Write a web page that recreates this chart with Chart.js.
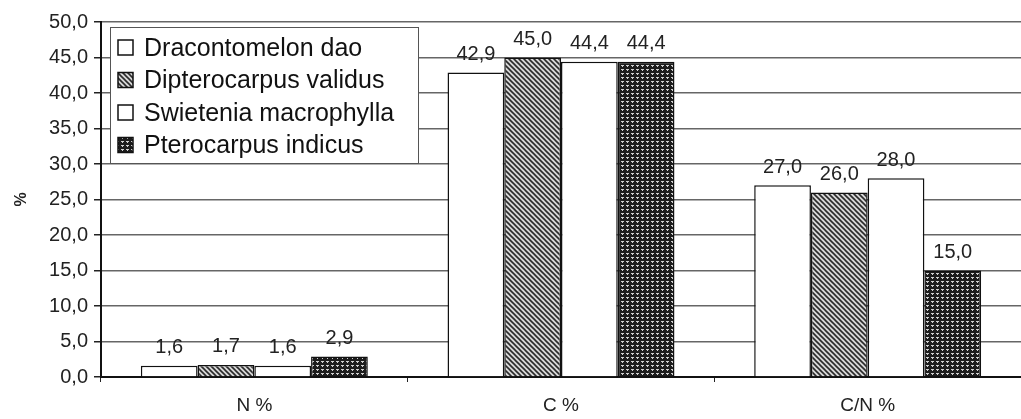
<!DOCTYPE html>
<html>
<head>
<meta charset="utf-8">
<script src="https://cdn.jsdelivr.net/npm/chart.js@4/dist/chart.umd.min.js"></script>
<style>
    html, body { margin: 0; padding: 0; background: #fff; }
    #caixa { width: 1021px; height: 419px; }
</style>
</head>
<body>
<div id="caixa"><canvas id="grafico"></canvas></div>
<script>
const categorias = ['N %', 'C %', 'C/N %'];
const especies = ['Dracontomelon dao', 'Dipterocarpus validus', 'Swietenia macrophylla', 'Pterocarpus indicus'];
const dracontomelon = [1.6, 42.9, 27.0];
const dipterocarpus = [1.7, 45.0, 26.0];
const swietenia = [1.6, 44.4, 28.0];
const pterocarpus = [2.9, 44.4, 15.0];
const ticksY = [0, 5, 10, 15, 20, 25, 30, 35, 40, 45, 50];

const virgula = v => v.toFixed(1).replace('.', ',');

// hachura diagonal cinza
function hachura() {
    const c = document.createElement('canvas');
    c.width = 5; c.height = 5;
    const g = c.getContext('2d');
    g.fillStyle = '#d8d8d8';
    g.fillRect(0, 0, 5, 5);
    g.strokeStyle = '#2a2a2a';
    g.lineWidth = 1.6;
    g.beginPath();
    g.moveTo(-1, -1); g.lineTo(6, 6);
    g.moveTo(-4, 1); g.lineTo(4, 9);
    g.moveTo(1, -4); g.lineTo(9, 4);
    g.stroke();
    return g.createPattern(c, 'repeat');
}

// quadriculado escuro
function quadriculado() {
    const c = document.createElement('canvas');
    c.width = 5; c.height = 4;
    const g = c.getContext('2d');
    g.fillStyle = '#1c1c1c';
    g.fillRect(0, 0, 5, 4);
    g.fillStyle = '#cfcfcf';
    g.fillRect(1, 1, 3, 1);
    g.fillRect(2, 2, 1, 1);
    return g.createPattern(c, 'repeat');
}

const preenchimentos = ['#ffffff', hachura(), '#ffffff', quadriculado()];
const series = [dracontomelon, dipterocarpus, swietenia, pterocarpus];

const rotulos = {
    id: 'rotulos',
    afterDatasetsDraw(chart) {
        const ctx = chart.ctx;
        ctx.save();
        ctx.font = '20px Arial, "Liberation Sans", sans-serif';
        ctx.fillStyle = '#222';
        ctx.textAlign = 'center';
        ctx.textBaseline = 'bottom';
        chart.data.datasets.forEach((ds, i) => {
            chart.getDatasetMeta(i).data.forEach((bar, j) => {
                ctx.fillText(virgula(ds.data[j]), bar.x, bar.y - 8);
            });
        });
        ctx.restore();
    }
};

const legenda = {
    id: 'legenda',
    afterDraw(chart) {
        const ctx = chart.ctx;
        const a = chart.chartArea;
        const x = a.left + 9, y = a.top + 5;
        ctx.save();
        ctx.fillStyle = '#fff';
        ctx.fillRect(x, y, 308, 136);
        ctx.strokeStyle = '#555';
        ctx.lineWidth = 1;
        ctx.strokeRect(x + 0.5, y + 0.5, 308, 136);
        ctx.font = '25px Arial, "Liberation Sans", sans-serif';
        ctx.textBaseline = 'middle';
        chart.data.datasets.forEach((ds, i) => {
            const cy = y + 21 + i * 32.5;
            ctx.fillStyle = ds.backgroundColor;
            ctx.fillRect(x + 8, cy - 8, 15, 15);
            ctx.strokeStyle = '#111';
            ctx.lineWidth = 1.5;
            ctx.strokeRect(x + 8, cy - 8, 15, 15);
            ctx.fillStyle = '#111';
            ctx.fillText(ds.label, x + 34, cy + 1);
        });
        ctx.restore();
    }
};

new Chart(document.getElementById('grafico'), {
    type: 'bar',
    data: {
        labels: categorias,
        datasets: especies.map((nome, i) => ({
            label: nome,
            data: series[i],
            backgroundColor: preenchimentos[i],
            borderColor: '#111',
            borderWidth: 1.5,
            categoryPercentage: 0.74,
            barPercentage: 1.0
        }))
    },
    options: {
        responsive: true,
        maintainAspectRatio: false,
        animation: false,
        layout: { padding: { top: 22, right: 0, bottom: 0, left: 0 } },
        plugins: {
            legend: { display: false },
            tooltip: { enabled: false }
        },
        scales: {
            x: {
                afterFit: s => { s.height = 42; },
                grid: {
                    offset: true,
                    drawOnChartArea: false,
                    tickLength: 5,
                    color: '#222'
                },
                border: { color: '#111', width: 2 },
                ticks: {
                    padding: 12,
                    color: '#222',
                    font: { family: 'Arial, "Liberation Sans", sans-serif', size: 19 }
                }
            },
            y: {
                min: 0,
                max: 50,
                afterFit: s => { s.width = 101; },
                afterBuildTicks: s => { s.ticks = ticksY.map(v => ({ value: v })); },
                grid: {
                    color: '#666',
                    lineWidth: 1.5,
                    tickLength: 7,
                    tickColor: '#222'
                },
                border: { color: '#111', width: 2 },
                ticks: {
                    padding: 6,
                    color: '#222',
                    font: { family: 'Arial, "Liberation Sans", sans-serif', size: 20 },
                    callback: v => virgula(v)
                },
                title: {
                    display: true,
                    text: '%',
                    color: '#222',
                    padding: { top: 12, bottom: 4 },
                    font: { family: 'Arial, "Liberation Sans", sans-serif', size: 16, weight: 'bold' }
                }
            }
        }
    },
    plugins: [rotulos, legenda]
});
</script>
</body>
</html>
